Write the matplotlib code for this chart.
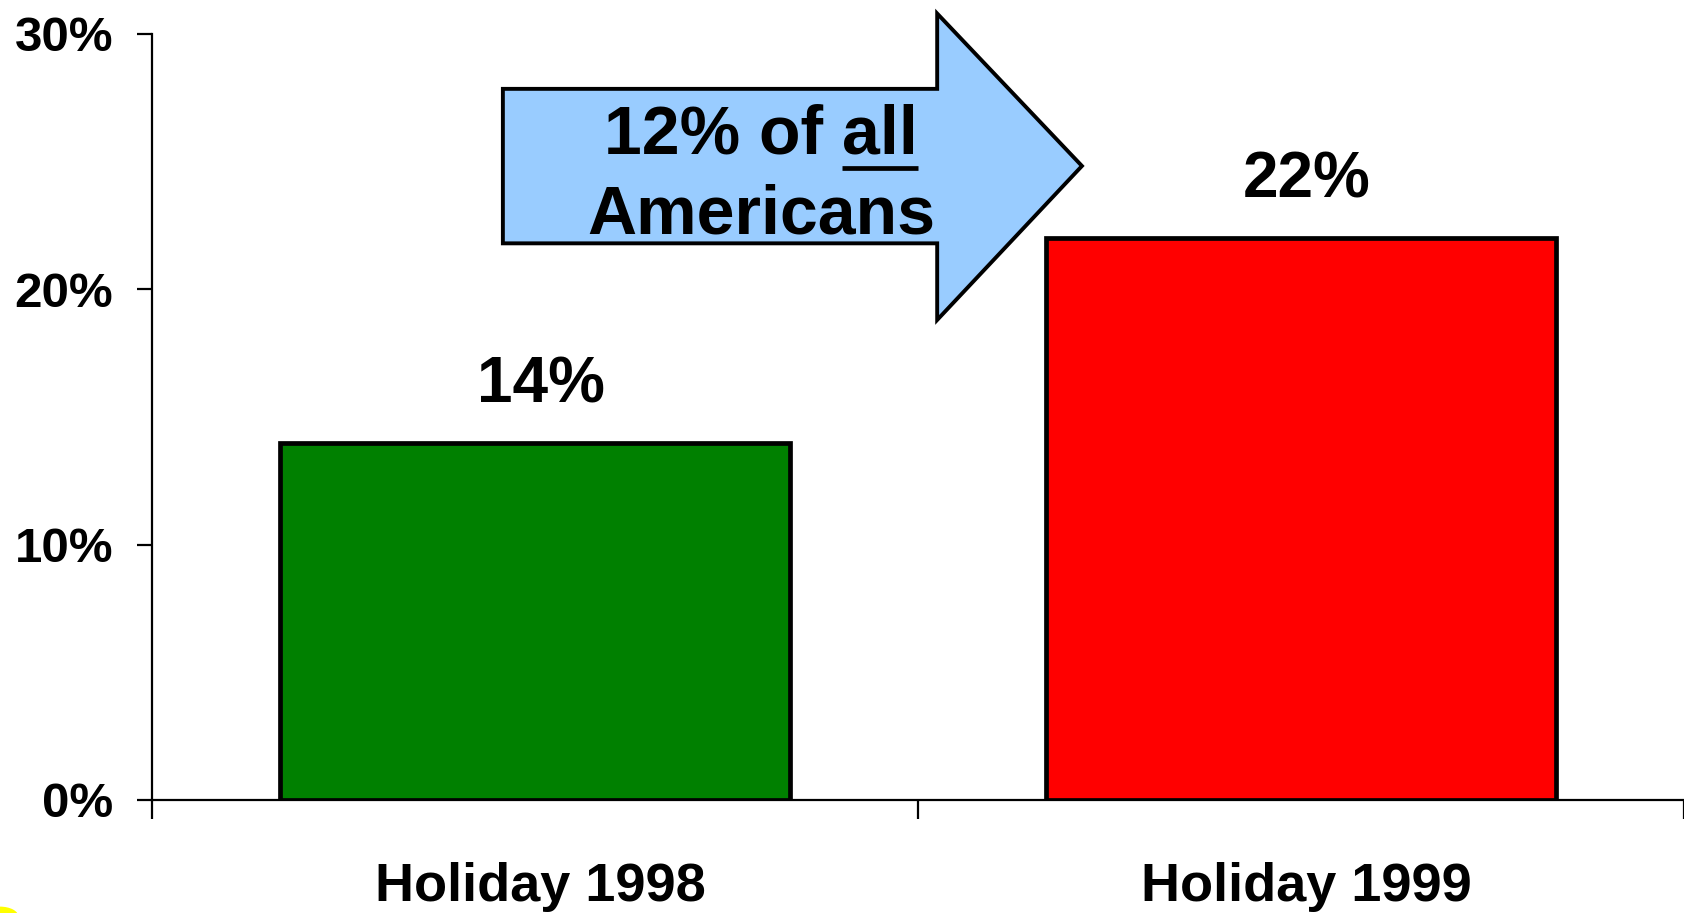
import matplotlib
matplotlib.use("Agg")
import matplotlib.pyplot as plt
from matplotlib.patches import Polygon, Ellipse

plt.rcParams["font.family"] = ["Liberation Sans", "DejaVu Sans"]
plt.rcParams["font.weight"] = "bold"

# data
categories = ["Holiday 1998", "Holiday 1999"]
shares = [14, 22]
bar_colors = ["#008000", "#FF0000"]
y_ticks = [0, 10, 20, 30]
callout_lines = ["12% of all", "Americans"]
underlined_word = "all"

fig = plt.figure(figsize=(16.84, 9.13), dpi=100)
ax = fig.add_axes([0.0903, 0.1238, 0.9097, 0.839])

x = [i + 0.5 for i in range(len(categories))]
ax.bar(x, shares, width=0.667, color=bar_colors, edgecolor="black", linewidth=3.4, zorder=3)

for xi, v in zip(x, shares):
    ax.annotate("%d%%" % v, (xi, v), xytext=(4, 29), textcoords="offset points",
                ha="center", va="baseline", fontsize=46, fontweight="bold")

ax.set_xlim(0, len(categories))
ax.set_ylim(0, 30)
ax.set_yticks(y_ticks)
ax.set_yticklabels(["%d%%" % t for t in y_ticks])
ax.set_xticks(range(len(categories) + 1))
ax.set_xticklabels([])
ax.set_xticks([xi + 0.007 for xi in x], minor=True)
ax.set_xticklabels(categories, minor=True)

for s in ["top", "right"]:
    ax.spines[s].set_visible(False)
for s in ["left", "bottom"]:
    ax.spines[s].set_linewidth(1.6)
ax.tick_params(axis="y", which="major", direction="out", length=11, width=1.6,
               labelsize=35.5, pad=17)
ax.tick_params(axis="x", which="major", direction="out", length=14, width=1.6)
ax.tick_params(axis="x", which="minor", length=0, labelsize=39, pad=45)

# callout arrow
arrow = Polygon([(0.458, 21.8), (1.025, 21.8), (1.025, 18.8), (1.214, 24.83),
                 (1.025, 30.8), (1.025, 27.85), (0.458, 27.85)],
                closed=True, facecolor="#99CCFF", edgecolor="black", linewidth=2.8,
                clip_on=False, zorder=4)
ax.add_patch(arrow)

t1 = ax.text(0.795, 25.3, callout_lines[0], ha="center", va="baseline",
             fontsize=49, fontweight="bold", zorder=5)
ax.text(0.795, 22.2, callout_lines[1], ha="center", va="baseline",
        fontsize=49, fontweight="bold", zorder=5)

# underline the last word of the first line
fig.canvas.draw()
r = fig.canvas.get_renderer()
bb = t1.get_window_extent(r)
tmp = ax.text(0, 0, underlined_word, fontsize=49, fontweight="bold")
w = tmp.get_window_extent(r).width
tmp.remove()
inv = ax.transData.inverted()
x0, _ = inv.transform((bb.x1 - w, 0))
x1, _ = inv.transform((bb.x1, 0))
ax.plot([x0, x1], [24.75, 24.75], color="black", linewidth=3.4, solid_capstyle="butt", zorder=5)

# yellow corner mark
fig.patches.append(Ellipse((0.0, -0.004), 0.022, 0.022, transform=fig.transFigure,
                           facecolor="#FFFF00", edgecolor="none"))

fig.savefig("out.png", dpi=100)
